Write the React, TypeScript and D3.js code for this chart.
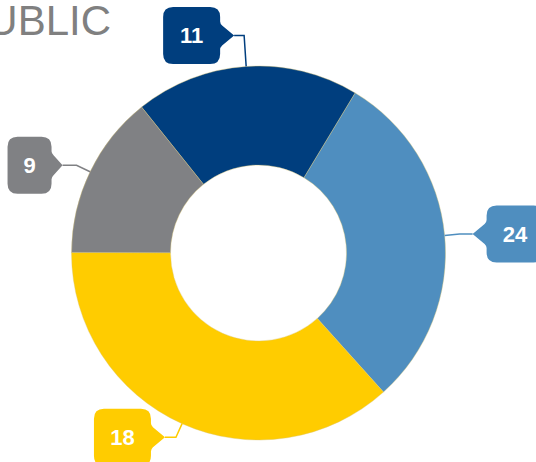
import React from "react";
import * as d3 from "d3";

// Data
const categories = ["Slice A", "Slice B", "Slice C", "Slice D"];
const labelValues = [11, 24, 18, 9];
// Angular share of each slice as drawn in the picture (percent of the ring)
const sliceShares = [19.4, 29.7, 36.7, 14.2];
const colors = ["#003E7E", "#4F8EBF", "#FFCC00", "#808184"];
const titleText = "UBLIC";

const W = 536;
const H = 462;
const cx = 258.5;
const cy = 253;
const outerR = 187;
const innerR = 88;
const startDeg = -38.7;

// label layout (per-slice)
const elbowExt = [31, 15, 15, 15];
const horizLen = [10, 13, 11, 14];
const pointerLens = [14, 14, 14, 11];
const boxH = 57;

export default function App() {
  const pie = d3
    .pie<number>()
    .sort(null)
    .value((d) => d)
    .startAngle((startDeg * Math.PI) / 180)
    .endAngle(((startDeg + 360) * Math.PI) / 180);
  const arcs = pie(sliceShares);
  const arcGen = d3.arc<d3.PieArcDatum<number>>().innerRadius(innerR).outerRadius(outerR);

  const callouts = arcs.map((a, i) => {
    const mid = (a.startAngle + a.endAngle) / 2;
    const sx = Math.sin(mid);
    const sy = -Math.cos(mid);
    const p0: [number, number] = [cx + outerR * sx, cy + outerR * sy];
    const re = outerR + elbowExt[i];
    const p1: [number, number] = [cx + re * sx, cy + re * sy];
    const dir = sx >= 0 ? 1 : -1;
    const tip: [number, number] = [p1[0] + dir * horizLen[i], p1[1]];
    const text = String(labelValues[i]);
    const boxW = text.length > 1 ? 57 : 44;
    const edgeX = tip[0] + dir * pointerLens[i];
    const x0 = dir > 0 ? edgeX : edgeX - boxW;
    const y0 = tip[1] - boxH / 2;
    const r = 10;
    const ph = 12;
    const x1 = x0 + boxW;
    const y1 = y0 + boxH;
    const ty = tip[1];
    let path = "";
    if (dir < 0) {
      path = [
        `M${x0 + r},${y0}`,
        `H${x1 - r}`,
        `Q${x1},${y0} ${x1},${y0 + r}`,
        `V${ty - ph - 2}`,
        `Q${x1},${ty - ph} ${x1 + 2},${ty - ph + 2}`,
        `L${tip[0]},${ty}`,
        `L${x1 + 2},${ty + ph - 2}`,
        `Q${x1},${ty + ph} ${x1},${ty + ph + 2}`,
        `V${y1 - r}`,
        `Q${x1},${y1} ${x1 - r},${y1}`,
        `H${x0 + r}`,
        `Q${x0},${y1} ${x0},${y1 - r}`,
        `V${y0 + r}`,
        `Q${x0},${y0} ${x0 + r},${y0}`,
        "Z",
      ].join(" ");
    } else {
      path = [
        `M${x0 + r},${y0}`,
        `H${x1 - r}`,
        `Q${x1},${y0} ${x1},${y0 + r}`,
        `V${y1 - r}`,
        `Q${x1},${y1} ${x1 - r},${y1}`,
        `H${x0 + r}`,
        `Q${x0},${y1} ${x0},${y1 - r}`,
        `V${ty + ph + 2}`,
        `Q${x0},${ty + ph} ${x0 - 2},${ty + ph - 2}`,
        `L${tip[0]},${ty}`,
        `L${x0 - 2},${ty - ph + 2}`,
        `Q${x0},${ty - ph} ${x0},${ty - ph - 2}`,
        `V${y0 + r}`,
        `Q${x0},${y0} ${x0 + r},${y0}`,
        "Z",
      ].join(" ");
    }
    return { p0, p1, tip, path, text, cxBox: x0 + boxW / 2, ty, color: colors[i], key: categories[i] };
  });

  return (
    <svg
      width={W}
      height={H}
      style={{ position: "absolute", left: 0, top: 0, background: "#fff" }}
      fontFamily="'Liberation Sans', Arial, Helvetica, sans-serif"
    >
      <text x={111} y={34.5} textAnchor="end" fontSize={42} fill="#808080">
        {titleText}
      </text>
      <g transform={`translate(${cx},${cy})`}>
        {arcs.map((a, i) => (
          <path key={categories[i]} d={arcGen(a) || ""} fill={colors[i]} stroke="#d8c473" strokeWidth={0.4} />
        ))}
      </g>
      {callouts.map((c) => (
        <g key={c.key}>
          <polyline
            points={`${c.p0[0]},${c.p0[1]} ${c.p1[0]},${c.p1[1]} ${c.tip[0]},${c.tip[1]}`}
            fill="none"
            stroke={c.color}
            strokeWidth={1.5}
          />
          <path d={c.path} fill={c.color} />
          <text
            x={c.cxBox}
            y={c.ty}
            dy="0.36em"
            textAnchor="middle"
            fontSize={22}
            fontWeight="bold"
            fill="#fff"
          >
            {c.text}
          </text>
        </g>
      ))}
    </svg>
  );
}
